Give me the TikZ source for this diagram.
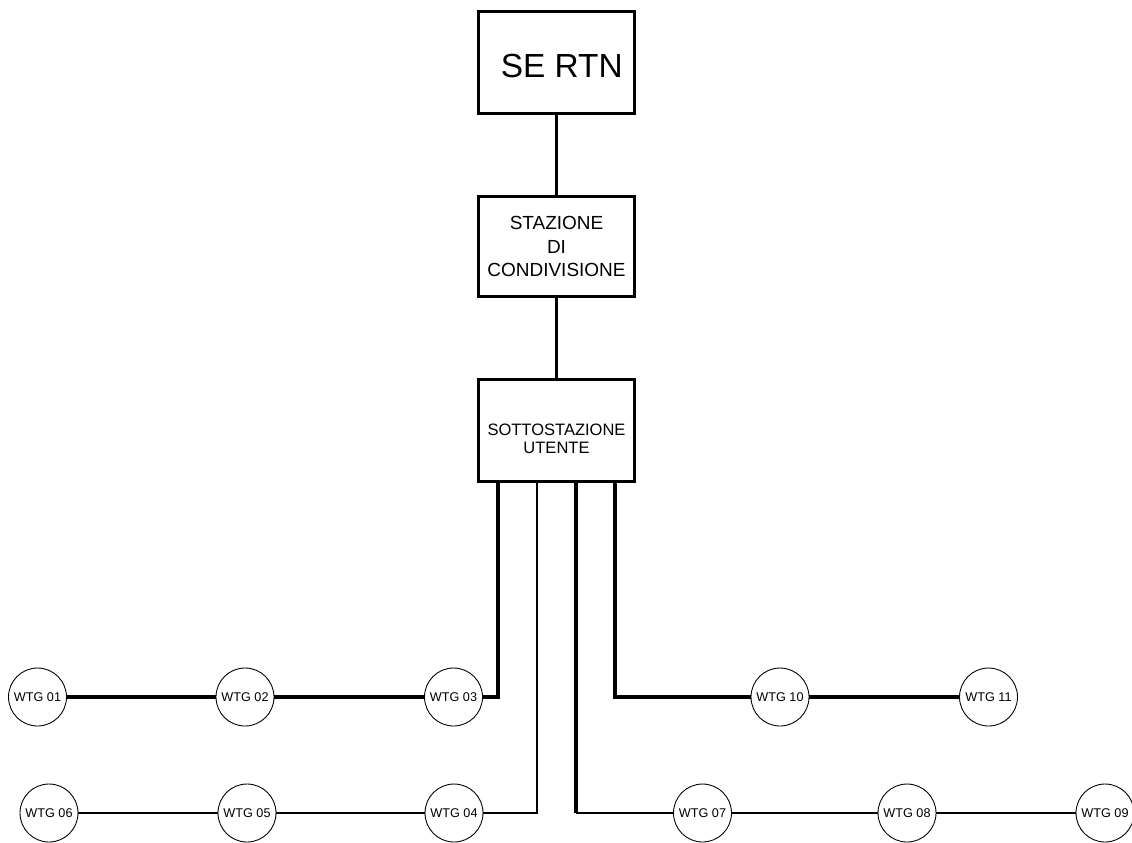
\documentclass[tikz,border=0pt]{standalone}
\usepackage{fontspec}
\setmainfont{Liberation Sans}
\usetikzlibrary{positioning}

\begin{document}
\begin{tikzpicture}[
  x=0.02cm,y=-0.02cm,
  stationbox/.style={draw,line width=1.8pt,minimum width=3.12cm,minimum height=#1,align=center,inner sep=0pt},
  wtg/.style={draw,circle,line width=0.5pt,minimum size=1.16cm,inner sep=0pt,font=\fontsize{7.2}{8}\selectfont},
  trunk/.style={line width=2pt},
  feeder/.style={line width=1.3pt}
]
  \useasboundingbox (0,0) rectangle (1132,842);

  % stazioni
  \node[stationbox=2.04cm,font=\fontsize{19}{22}\selectfont] (se) at (556.5,62.5)
    {\raisebox{0pt}[\dimexpr\height+4pt][\depth]{\hspace{6pt}SE RTN}};
  \node[stationbox=2.0cm,font=\fontsize{10.8}{13.6}\selectfont] (sc) at (556.5,246.5) {STAZIONE\\DI\\CONDIVISIONE};
  \node[stationbox=2.04cm,font=\fontsize{9.4}{10.3}\selectfont] (su) at (556.5,430.5)
    {\raisebox{0pt}[\dimexpr\height+0.4cm][\depth]{\begin{tabular}{@{}c@{}}SOTTOSTAZIONE\\UTENTE\end{tabular}}};

  \draw[trunk] (se) -- (sc);
  \draw[trunk] (sc) -- (su);

  % partenze dalla sottostazione
  \coordinate (f1) at (498,481.5);
  \coordinate (f2) at (537,481.5);
  \coordinate (f3) at (576,481.5);
  \coordinate (f4) at (615,481.5);

  % aerogeneratori
  \node[wtg] (w01) at (37.5,697) {WTG 01};
  \node[wtg] (w02) at (245,697) {WTG 02};
  \node[wtg] (w03) at (453.5,697) {WTG 03};
  \node[wtg] (w10) at (780,697) {WTG 10};
  \node[wtg] (w11) at (988.5,697) {WTG 11};

  \node[wtg] (w06) at (49,813) {WTG 06};
  \node[wtg] (w05) at (247,813) {WTG 05};
  \node[wtg] (w04) at (454,813) {WTG 04};
  \node[wtg] (w07) at (702.5,813) {WTG 07};
  \node[wtg] (w08) at (907,813) {WTG 08};
  \node[wtg] (w09) at (1105,813) {WTG 09};

  % linee
  \draw[trunk] (w01) -- (w02);
  \draw[trunk] (w02) -- (w03);
  \draw[trunk] (w03) -| (f1);
  \draw[trunk] (f4) |- (w10);
  \draw[trunk] (w10) -- (w11);

  \draw[feeder] (w06) -- (w05);
  \draw[feeder] (w05) -- (w04);
  \draw[feeder] (w04) -| (f2);
  \draw[trunk] (f3) -- (576,813);
  \draw[feeder] (576,813) -- (w07);
  \draw[feeder] (w07) -- (w08);
  \draw[feeder] (w08) -- (w09);
\end{tikzpicture}
\end{document}
